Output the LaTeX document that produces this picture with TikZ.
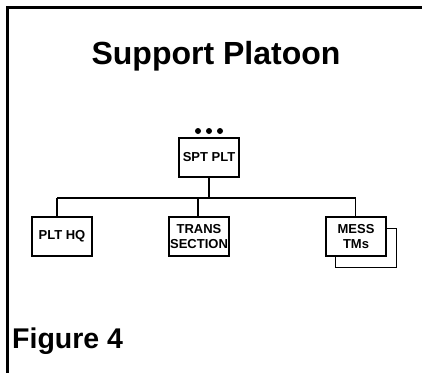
\documentclass[tikz,border=0pt]{standalone}
\usepackage{fontspec}
\setmainfont{Liberation Sans}
\begin{document}
\begin{tikzpicture}[x=1pt,y=-1pt,
  unit/.style={draw,line width=1.7pt,minimum width=60pt,minimum height=39pt,inner sep=0pt,
    align=center,font=\fontsize{13}{15}\selectfont\bfseries,fill=white},
  link/.style={line width=1.7pt},
  frame/.style={line width=3pt}]
\useasboundingbox (0,0) rectangle (422,373);
\coordinate (ftop) at (422,7.5);
\coordinate (fcorner) at (7.5,7.5);
\coordinate (fbot) at (7.5,373);
\draw[frame] (ftop) -- (fcorner) -- (fbot);
\node[anchor=base,inner sep=0pt,font=\fontsize{32}{36}\selectfont\bfseries] (title) at (216,64.5) {Support Platoon};
\node[anchor=base west,inner sep=0pt,font=\fontsize{28.5}{32}\selectfont\bfseries] (fig) at (12,348) {Figure 4};
% shadow box behind MESS TMs
\node[unit,minimum width=61pt] (shadow) at (366,248) {};
\node[unit] (spt) at (209,157.5) {SPT PLT};
\node[unit] (hq) at (62,236.5) {PLT HQ};
\node[unit] (trans) at (199,236.5) {TRANS\\SECTION};
\node[unit] (mess) at (356,236.5) {MESS\\TMs};
\foreach \x/\n in {198/d1,209/d2,220/d3}
  \fill (\x,131) circle (3pt) coordinate (\n);
\coordinate (bus) at (209,198);
\coordinate (busL) at (57,198);
\coordinate (busM) at (198,198);
\coordinate (busR) at (355.5,198);
\draw[link] (spt.south) -- (bus);
\draw[link] (busL) -- (busR);
\draw[link] (busL) -- (busL |- hq.north);
\draw[link] (busM) -- (busM |- trans.north);
\draw[link] (busR) -- (busR |- mess.north);
\end{tikzpicture}
\end{document}
